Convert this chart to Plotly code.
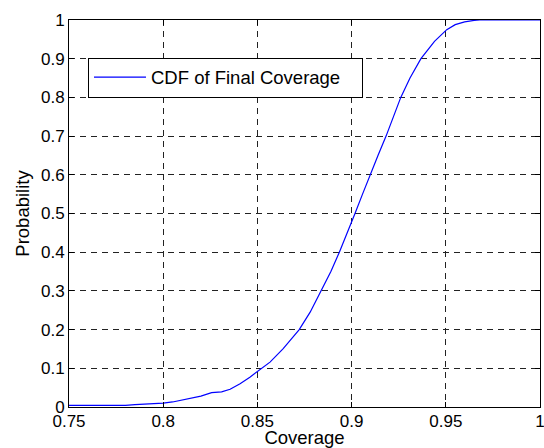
import plotly.graph_objects as go

# Read-off values of the CDF curve
coverage = [0.75, 0.76, 0.77, 0.78, 0.785, 0.79, 0.795, 0.80, 0.805, 0.8125,
            0.82, 0.8257, 0.831, 0.8355, 0.8408, 0.846, 0.8514, 0.8567, 0.8637,
            0.8722, 0.878, 0.8836, 0.889, 0.8935, 0.8978, 0.9018, 0.9058, 0.9098,
            0.914, 0.9183, 0.9222, 0.9261, 0.931, 0.9368, 0.944, 0.9505, 0.955,
            0.960, 0.965, 0.968, 1.0]
probability = [0.004, 0.004, 0.004, 0.004, 0.006, 0.007, 0.008, 0.010, 0.013, 0.021,
               0.028, 0.037, 0.039, 0.046, 0.060, 0.077, 0.096, 0.116, 0.151,
               0.200, 0.245, 0.300, 0.350, 0.400, 0.450, 0.500, 0.550, 0.600,
               0.650, 0.700, 0.750, 0.800, 0.850, 0.900, 0.945, 0.975, 0.988,
               0.995, 0.999, 1.0, 1.0]

x_ticks = [0.75, 0.8, 0.85, 0.9, 0.95, 1.0]
x_ticklabels = ["0.75", "0.8", "0.85", "0.9", "0.95", "1"]
y_ticks = [0, 0.1, 0.2, 0.3, 0.4, 0.5, 0.6, 0.7, 0.8, 0.9, 1.0]
y_ticklabels = ["0", "0.1", "0.2", "0.3", "0.4", "0.5", "0.6", "0.7", "0.8", "0.9", "1"]

series_name = "CDF of Final Coverage"
x_title = "Coverage"
y_title = "Probability"

FONT = "Liberation Sans, Arial, sans-serif"

fig = go.Figure()
fig.add_trace(go.Scatter(
    x=coverage, y=probability, mode="lines", name=series_name,
    line=dict(color="#0000ff", width=1.2),
    showlegend=True,
))

axis_common = dict(
    showline=True, linecolor="black", linewidth=1,
    mirror="ticks", ticks="inside", ticklen=5, tickcolor="black",
    showgrid=True, gridcolor="#222222", gridwidth=1, griddash="6px,5px",
    zeroline=False, automargin=False, ticklabeloverflow="allow",
    tickfont=dict(family=FONT, size=17, color="black"),
)

fig.update_xaxes(
    range=[0.75, 1.0], tickvals=x_ticks, ticktext=x_ticklabels,
    ticklabelstandoff=-1,
    title=dict(text=x_title, font=dict(family=FONT, size=18.5, color="black"), standoff=4),
    **axis_common,
)
fig.update_yaxes(
    range=[0, 1.0], tickvals=y_ticks, ticktext=y_ticklabels,
    title=dict(text=y_title, font=dict(family=FONT, size=18.5, color="black"), standoff=6),
    **axis_common,
)

fig.update_layout(
    width=544, height=448,
    margin=dict(l=69, r=4, t=20, b=41),
    paper_bgcolor="white", plot_bgcolor="white",
    font=dict(family=FONT, color="black"),
    showlegend=True,
    legend=dict(
        x=0.0403, y=0.903, xanchor="left", yanchor="top",
        bgcolor="white", bordercolor="black", borderwidth=1,
        font=dict(family=FONT, size=18.5, color="black"),
        orientation="h", entrywidth=206, entrywidthmode="pixels",
        itemwidth=52,
    ),
)

fig.write_html("out.html")
